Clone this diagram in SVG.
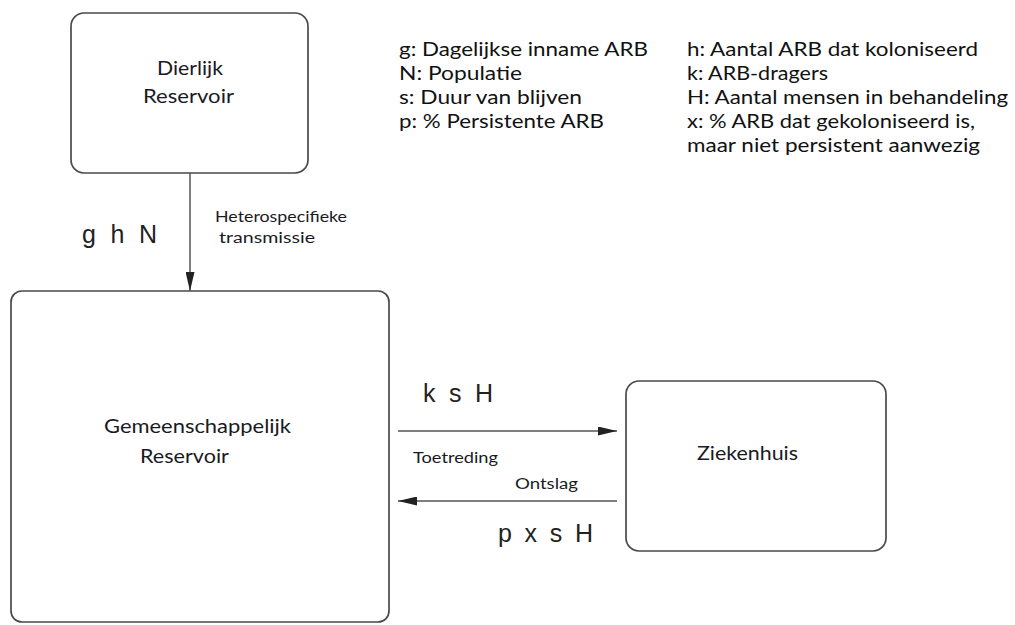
<svg xmlns="http://www.w3.org/2000/svg" width="1015" height="625" viewBox="0 0 1015 625">
<style>
.box{fill:#fff;stroke:#4a4a4a;stroke-width:1.7}
.lbl{font-family:Lato,"Open Sans","Liberation Sans",sans-serif;fill:#1a1a24}
.leg{font-family:Lato,"Open Sans","Liberation Sans",sans-serif;font-size:19.5px;fill:#111}
.math{font-family:"Liberation Sans",Arial,sans-serif;font-size:25px;fill:#222}
.con{stroke:#555;stroke-width:1.5;fill:none}
</style>
<defs>
<marker id="ahw" viewBox="0 0 10 10" refX="10" refY="5" markerWidth="19" markerHeight="9" markerUnits="userSpaceOnUse" orient="auto" preserveAspectRatio="none">
<path d="M0,0 L10,5 L0,10 z" fill="#222"/>
</marker>
</defs>
<rect width="1015" height="625" fill="#fff"/>
<g id="dierlijk">
<rect class="box" x="71" y="13" width="237" height="160" rx="13"/>
<text class="lbl" font-size="18.5" x="157" y="75" textLength="66" lengthAdjust="spacingAndGlyphs">Dierlijk</text>
<text class="lbl" font-size="18.5" x="143" y="103" textLength="91" lengthAdjust="spacingAndGlyphs">Reservoir</text>
</g>
<g id="gemeenschappelijk">
<rect class="box" x="11" y="291" width="378" height="331" rx="11"/>
<text class="lbl" font-size="18.5" x="104" y="433" textLength="187" lengthAdjust="spacingAndGlyphs">Gemeenschappelijk</text>
<text class="lbl" font-size="18.5" x="140" y="463" textLength="89" lengthAdjust="spacingAndGlyphs">Reservoir</text>
</g>
<g id="ziekenhuis">
<rect class="box" x="626" y="381" width="260" height="170" rx="13"/>
<text class="lbl" font-size="18.5" x="697" y="460" textLength="101" lengthAdjust="spacingAndGlyphs">Ziekenhuis</text>
</g>
<g id="connectors">
<line class="con" x1="190" y1="173" x2="190" y2="291" marker-end="url(#ahw)"/>
<line class="con" x1="398" y1="431" x2="617" y2="431" marker-end="url(#ahw)"/>
<line class="con" x1="617" y1="501" x2="398" y2="501" marker-end="url(#ahw)"/>
<text class="math" x="82" y="243" textLength="75" lengthAdjust="spacing">g h N</text>
<text class="lbl" font-size="14.5" x="215" y="222" textLength="132" lengthAdjust="spacingAndGlyphs">Heterospecifieke</text>
<text class="lbl" font-size="14.5" x="219" y="243" textLength="96" lengthAdjust="spacingAndGlyphs">transmissie</text>
<text class="math" x="423" y="402" textLength="70" lengthAdjust="spacing">k s H</text>
<text class="lbl" font-size="14.5" x="413" y="463" textLength="85" lengthAdjust="spacingAndGlyphs">Toetreding</text>
<text class="lbl" font-size="14.5" x="515" y="489" textLength="63" lengthAdjust="spacingAndGlyphs">Ontslag</text>
<text class="math" x="498" y="542" textLength="95" lengthAdjust="spacing">p x s H</text>
</g>
<g id="legend">
<text class="leg" x="399" y="56" textLength="249" lengthAdjust="spacingAndGlyphs">g: Dagelijkse inname ARB</text>
<text class="leg" x="399" y="80" textLength="123" lengthAdjust="spacingAndGlyphs">N: Populatie</text>
<text class="leg" x="399" y="104" textLength="183" lengthAdjust="spacingAndGlyphs">s: Duur van blijven</text>
<text class="leg" x="399" y="128" textLength="205" lengthAdjust="spacingAndGlyphs">p: % Persistente ARB</text>
<text class="leg" x="687" y="56" textLength="291" lengthAdjust="spacingAndGlyphs">h: Aantal ARB dat koloniseerd</text>
<text class="leg" x="687" y="80" textLength="141" lengthAdjust="spacingAndGlyphs">k: ARB-dragers</text>
<text class="leg" x="687" y="104" textLength="321" lengthAdjust="spacingAndGlyphs">H: Aantal mensen in behandeling</text>
<text class="leg" x="687" y="128" textLength="288" lengthAdjust="spacingAndGlyphs">x: % ARB dat gekoloniseerd is,</text>
<text class="leg" x="687" y="152" textLength="293" lengthAdjust="spacingAndGlyphs">maar niet persistent aanwezig</text>
</g>
</svg>
